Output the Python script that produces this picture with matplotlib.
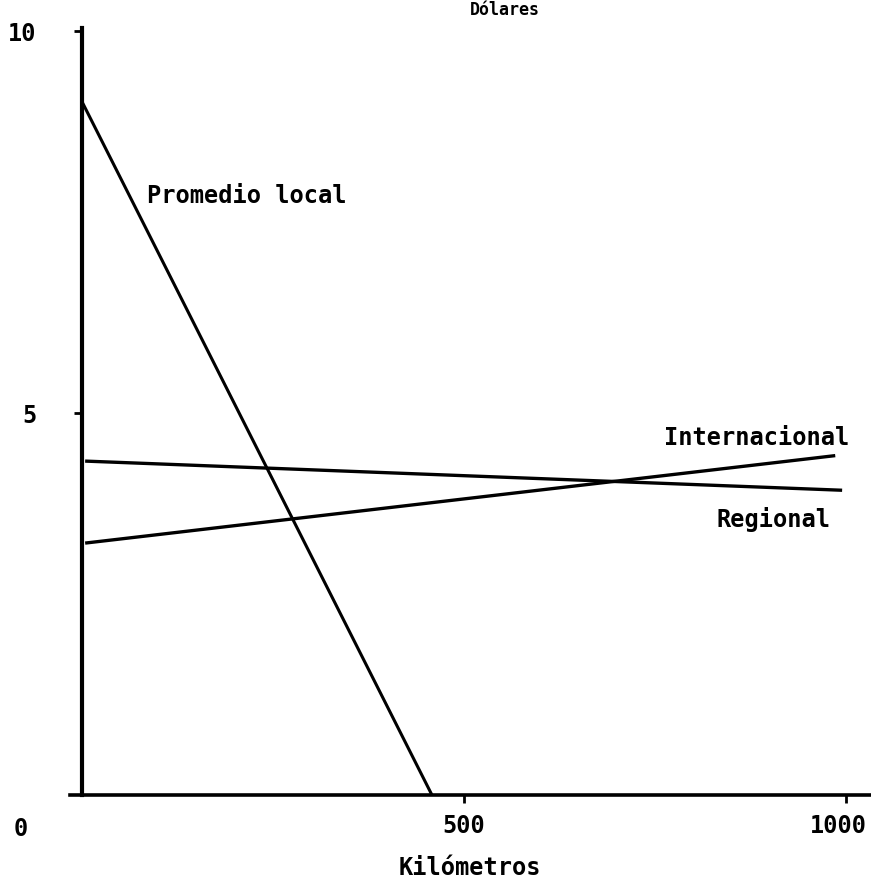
import matplotlib.pyplot as plt
from matplotlib.transforms import ScaledTranslation

# values (km, dollars)
km_local = [0, 458]
usd_local = [9.07, 0.0]

km_regional = [6, 993]
usd_regional = [4.37, 3.99]

km_internacional = [6, 984]
usd_internacional = [3.30, 4.44]

xticks = [500, 1000]
yticks = [5, 10]

font = "DejaVu Sans Mono"

fig = plt.figure(figsize=(8.71, 8.85), dpi=100)
ax = fig.add_axes([70 / 871, 90 / 885, 801 / 871, 767 / 885])
ax.set_xlim(-16, 1033)
ax.set_ylim(0, 10.04)

for s in ["top", "right"]:
    ax.spines[s].set_visible(False)
ax.spines["left"].set_position(("data", 0))
ax.spines["left"].set_linewidth(3)
ax.spines["bottom"].set_linewidth(2.6)

ax.plot(km_local, usd_local, color="black", lw=2.2, solid_capstyle="butt")
ax.plot(km_regional, usd_regional, color="black", lw=2.4)
ax.plot(km_internacional, usd_internacional, color="black", lw=2.4)

ax.set_xticks(xticks)
ax.set_yticks(yticks)
ax.tick_params(axis="x", length=6, width=2, pad=8, labelsize=17)
ax.tick_params(axis="y", length=6, width=2, pad=27, labelsize=17)
for lab in ax.get_xticklabels() + ax.get_yticklabels():
    lab.set_fontfamily(font)
    lab.set_fontweight("bold")
# the 1000 label sits a little left of its tick in the original
last = ax.get_xticklabels()[-1]
last.set_transform(last.get_transform() + ScaledTranslation(-0.07, 0, fig.dpi_scale_trans))

txt = dict(fontfamily=font, fontweight="bold", fontsize=17, color="black")
ax.text(-80, -0.45, "0", ha="center", va="center", clip_on=False, **txt)
ax.text(85, 7.84, "Promedio local", ha="left", va="center", **txt)
ax.text(762, 4.67, "Internacional", ha="left", va="center", clip_on=False, **txt)
ax.text(831, 3.6, "Regional", ha="left", va="center", clip_on=False, **txt)

fig.text(470 / 871, 1 - 868 / 885, "Kilómetros", ha="center", va="center", **txt)
fig.text(505 / 871, 1 - 1 / 885, "Dólares", ha="center", va="top",
         fontfamily=font, fontweight="bold", fontsize=12)

fig.savefig("out.png", dpi=100)
